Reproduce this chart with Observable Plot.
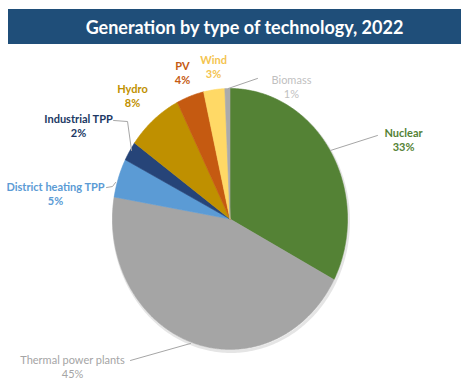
<!DOCTYPE html>
<html><head><meta charset="utf-8">
<script src="https://cdn.jsdelivr.net/npm/d3@7"></script>
<script src="https://cdn.jsdelivr.net/npm/@observablehq/plot@0.6"></script>
<style>
body{margin:0;background:#fff;font-family:Lato,sans-serif;}
#title{margin:9px 0 0 8px;width:453px;height:35px;background:#1F4E79;color:#fff;font:bold 18px Lato,sans-serif;display:flex;align-items:center;justify-content:center;padding-left:20px;box-sizing:border-box;}
#chart svg{display:block;}
</style></head><body>
<div id="title">Generation by type of technology, 2022</div>
<div id="chart"></div>
<script>
// ---- data ----
const categories = ["Nuclear","Thermal power plants","District heating TPP","Industrial TPP","Hydro","PV","Wind","Biomass"];
const shares = [32.7, 45.0, 4.8, 2.4, 7.7, 3.8, 2.9, 0.7];
const shareLabels = ["33%","45%","5%","2%","8%","4%","3%","1%"];

// ---- styles ----
const sliceColors = ["#548235","#A5A5A5","#5B9BD5","#264478","#BF9000","#C55A11","#FFD966","#ABABAB"];
const labelColors = ["#548235","#A5A5A5","#5B9BD5","#203864","#BF9000","#C55A11","#F4C44F","#BFBFBF"];
const labelBold   = [true,false,true,true,true,true,true,false];

// ---- layout (in pie-radius units) ----
const labelPos = {
  "Nuclear":[1.477,0.609], "Thermal power plants":[-1.340,-1.130], "District heating TPP":[-1.485,0.192],
  "Industrial TPP":[-1.289,0.713], "Hydro":[-0.830,0.946], "PV":[-0.404,1.123], "Wind":[-0.140,1.165], "Biomass":[0.523,1.015]
};
const leaderPath = {
  "Nuclear":[[1.255,0.640],[0.855,0.525]],
  "Biomass":[[0.234,1.077],[-0.015,1.0]],
  "Industrial TPP":[[-0.991,0.755],[-0.872,0.747],[-0.838,0.525]],
  "District heating TPP":[[-1.051,0.241],[-1.0,0.249],[-0.974,0.280]],
  "Thermal power plants":[[-0.847,-1.084],[-0.336,-0.954]]
};

// ---- geometry from data ----
const arcs = d3.pie().sort(null).value(d => d)(shares);
const slicePts = [];
arcs.forEach((a, i) => {
  const name = categories[i];
  slicePts.push({name, x: 0, y: 0});
  const n = Math.max(2, Math.ceil((a.endAngle - a.startAngle) / (Math.PI / 360)));
  for (let k = 0; k <= n; k++) {
    const t = a.startAngle + (a.endAngle - a.startAngle) * k / n;
    slicePts.push({name, x: Math.sin(t), y: Math.cos(t)});
  }
  slicePts.push({name, x: 0, y: 0});
});
const outline = d3.range(0, 361).map(d => ({x: Math.sin(d * Math.PI / 180), y: Math.cos(d * Math.PI / 180)}));
const leaderPts = [];
Object.entries(leaderPath).forEach(([name, pts]) => pts.forEach(([x, y]) => leaderPts.push({name, x, y})));

const labelMarks = categories.map((name, i) => Plot.text([{x: labelPos[name][0], y: labelPos[name][1], text: name + "\n" + shareLabels[i]}], {
  x: "x", y: "y", text: "text", fill: labelColors[i], fontWeight: labelBold[i] ? "bold" : "normal",
  fontSize: 11, lineHeight: 1.27, fontFamily: "Lato, sans-serif"
}));

const chart = Plot.plot({
  width: 475, height: 347,
  x: {domain: [-1, 1], range: [112, 347], axis: null},
  y: {domain: [-1, 1], range: [305, 44], axis: null},
  color: {domain: categories, range: sliceColors},
  style: {background: "#fff"},
  marks: [
    Plot.line(outline, {x: "x", y: "y", stroke: "#000", strokeOpacity: 0.10, strokeWidth: 3, dx: 1, dy: 2}),
    Plot.line(slicePts, {x: "x", y: "y", z: "name", fill: "name", stroke: "name", strokeWidth: 0.6, curve: "linear"}),
    Plot.line(leaderPts, {x: "x", y: "y", z: "name", stroke: "#A6A6A6", strokeWidth: 1}),
    ...labelMarks
  ]
});
document.getElementById("chart").appendChild(chart);
</script>
</body></html>
